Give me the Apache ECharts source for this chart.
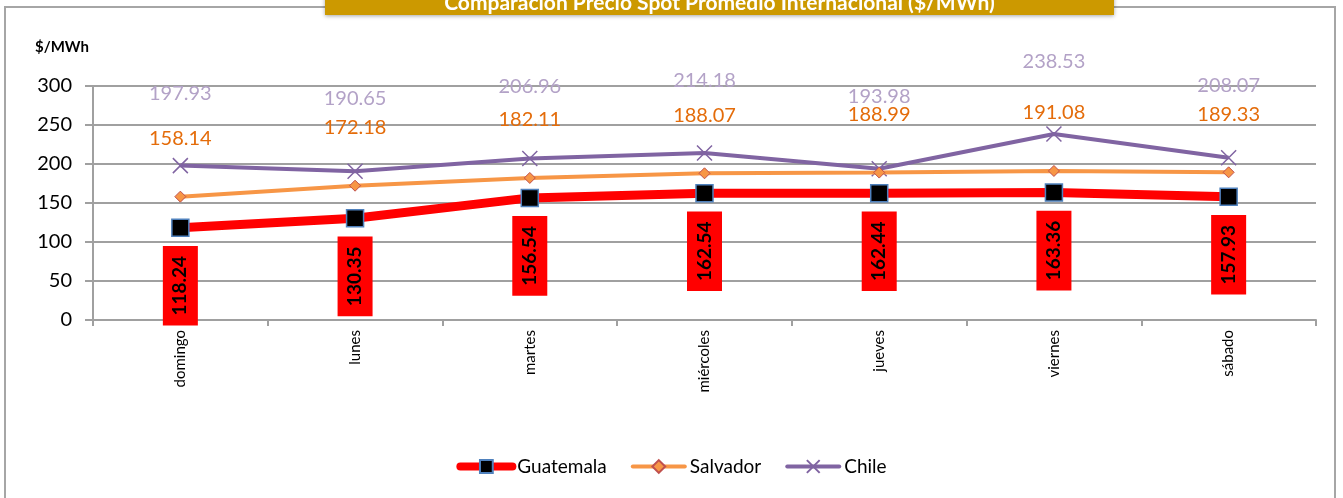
<!DOCTYPE html>
<html>
<head>
<meta charset="utf-8">
<script src="https://cdn.jsdelivr.net/npm/echarts@6/dist/echarts.min.js"></script>
<style>
html,body{margin:0;padding:0;background:#fff;}
#c{width:1343px;height:498px;}
</style>
</head>
<body>
<div id="c"></div>
<script>
const categories = ['domingo', 'lunes', 'martes', 'miércoles', 'jueves', 'viernes', 'sábado'];
const guatemala = [118.24, 130.35, 156.54, 162.54, 162.44, 163.36, 157.93];
const salvador = [158.14, 172.18, 182.11, 188.07, 188.99, 191.08, 189.33];
const chile = [197.93, 190.65, 206.96, 214.18, 193.98, 238.53, 208.07];
const yTicks = { min: 0, max: 300, interval: 50 };
const titleText = 'Comparación Precio Spot Promedio Internacional ($/MWh)';
const yUnit = '$/MWh';

const FONT = 'Lato, "Open Sans", sans-serif';
const chart = echarts.init(document.getElementById('c'), null, { renderer: 'canvas' });

const crossPath = 'path://M0,0L10,10M10,0L0,10';

chart.setOption({
  animation: false,
  backgroundColor: '#ffffff',
  textStyle: { fontFamily: FONT },
  graphic: [
    { type: 'rect', shape: { x: 5, y: 7, width: 1330, height: 500 }, style: { fill: 'none', stroke: '#a6a6a6', lineWidth: 2 }, z: 0 },
    { type: 'rect', shape: { x: 325, y: -6, width: 789, height: 21 }, style: { fill: '#cc9900', shadowBlur: 4, shadowColor: 'rgba(0,0,0,0.35)', shadowOffsetY: 1 }, z: 1 },
    { type: 'text', x: 719.5, y: 3, style: { text: titleText, fill: '#ffffff', font: 'bold 21px ' + FONT, align: 'center', verticalAlign: 'middle' }, z: 2 },
    { type: 'text', x: 35, y: 47, style: { text: yUnit, fill: '#000', font: 'bold 15px ' + FONT, verticalAlign: 'middle' }, z: 2 }
  ],
  grid: { left: 93, right: 27, top: 86, bottom: 178, containLabel: false },
  legend: {
    bottom: 17,
    left: 'center',
    itemWidth: 52,
    itemHeight: 16,
    itemGap: 24,
    textStyle: { fontSize: 19, color: '#000', fontFamily: FONT },
    data: [
      { name: 'Guatemala', lineStyle: { width: 8, cap: 'round' } },
      { name: 'Salvador', lineStyle: { width: 4, cap: 'round' } },
      { name: 'Chile', lineStyle: { width: 4, cap: 'round' } }
    ]
  },
  xAxis: {
    type: 'category',
    data: categories,
    boundaryGap: true,
    axisLine: { lineStyle: { color: '#a0a0a0', width: 2 } },
    axisTick: { show: true, alignWithLabel: false, length: 6, lineStyle: { color: '#a0a0a0', width: 2 } },
    axisLabel: { rotate: 90, fontSize: 15, color: '#000', margin: 10, fontFamily: FONT }
  },
  yAxis: {
    type: 'value',
    min: yTicks.min, max: yTicks.max, interval: yTicks.interval,
    axisLine: { show: true, lineStyle: { color: '#a0a0a0', width: 2 } },
    axisTick: { show: true, inside: false, length: 8, lineStyle: { color: '#a0a0a0', width: 2 } },
    splitLine: { lineStyle: { color: '#a0a0a0', width: 2 } },
    axisLabel: { fontSize: 20, color: '#000', margin: 21, fontFamily: FONT }
  },
  series: [
    {
      name: 'Guatemala', type: 'line', data: guatemala, z: 5,
      symbol: 'rect', symbolSize: 17,
      lineStyle: { color: '#ff0000', width: 9 },
      itemStyle: { color: '#000000', borderColor: '#4f81bd', borderWidth: 1.5 },
      label: {
        show: true, position: 'inside', rotate: 90, offset: [-58, 0],
        formatter: p => p.value.toFixed(2),
        color: '#000', fontWeight: 'bold', fontSize: 19, fontFamily: FONT,
        backgroundColor: '#ff0000', padding: [8, 10, 8, 10]
      }
    },
    {
      name: 'Salvador', type: 'line', data: salvador, z: 4,
      symbol: 'diamond', symbolSize: 11,
      lineStyle: { color: '#f79646', width: 4 },
      itemStyle: { color: '#f79646', borderColor: '#c0504d', borderWidth: 1 },
      label: {
        show: true, position: 'top', distance: 42,
        formatter: p => p.value.toFixed(2),
        color: '#e46c0a', fontSize: 20, fontFamily: FONT
      }
    },
    {
      name: 'Chile', type: 'line', data: chile, z: 3,
      symbol: crossPath, symbolSize: 15,
      lineStyle: { color: '#8064a2', width: 4 },
      itemStyle: { color: '#8064a2', borderColor: '#8064a2', borderWidth: 1.5 },
      label: {
        show: true, position: 'top', distance: 54,
        formatter: p => p.value.toFixed(2),
        color: '#b3a2c7', fontSize: 20, fontFamily: FONT
      }
    }
  ]
});
</script>
</body>
</html>
